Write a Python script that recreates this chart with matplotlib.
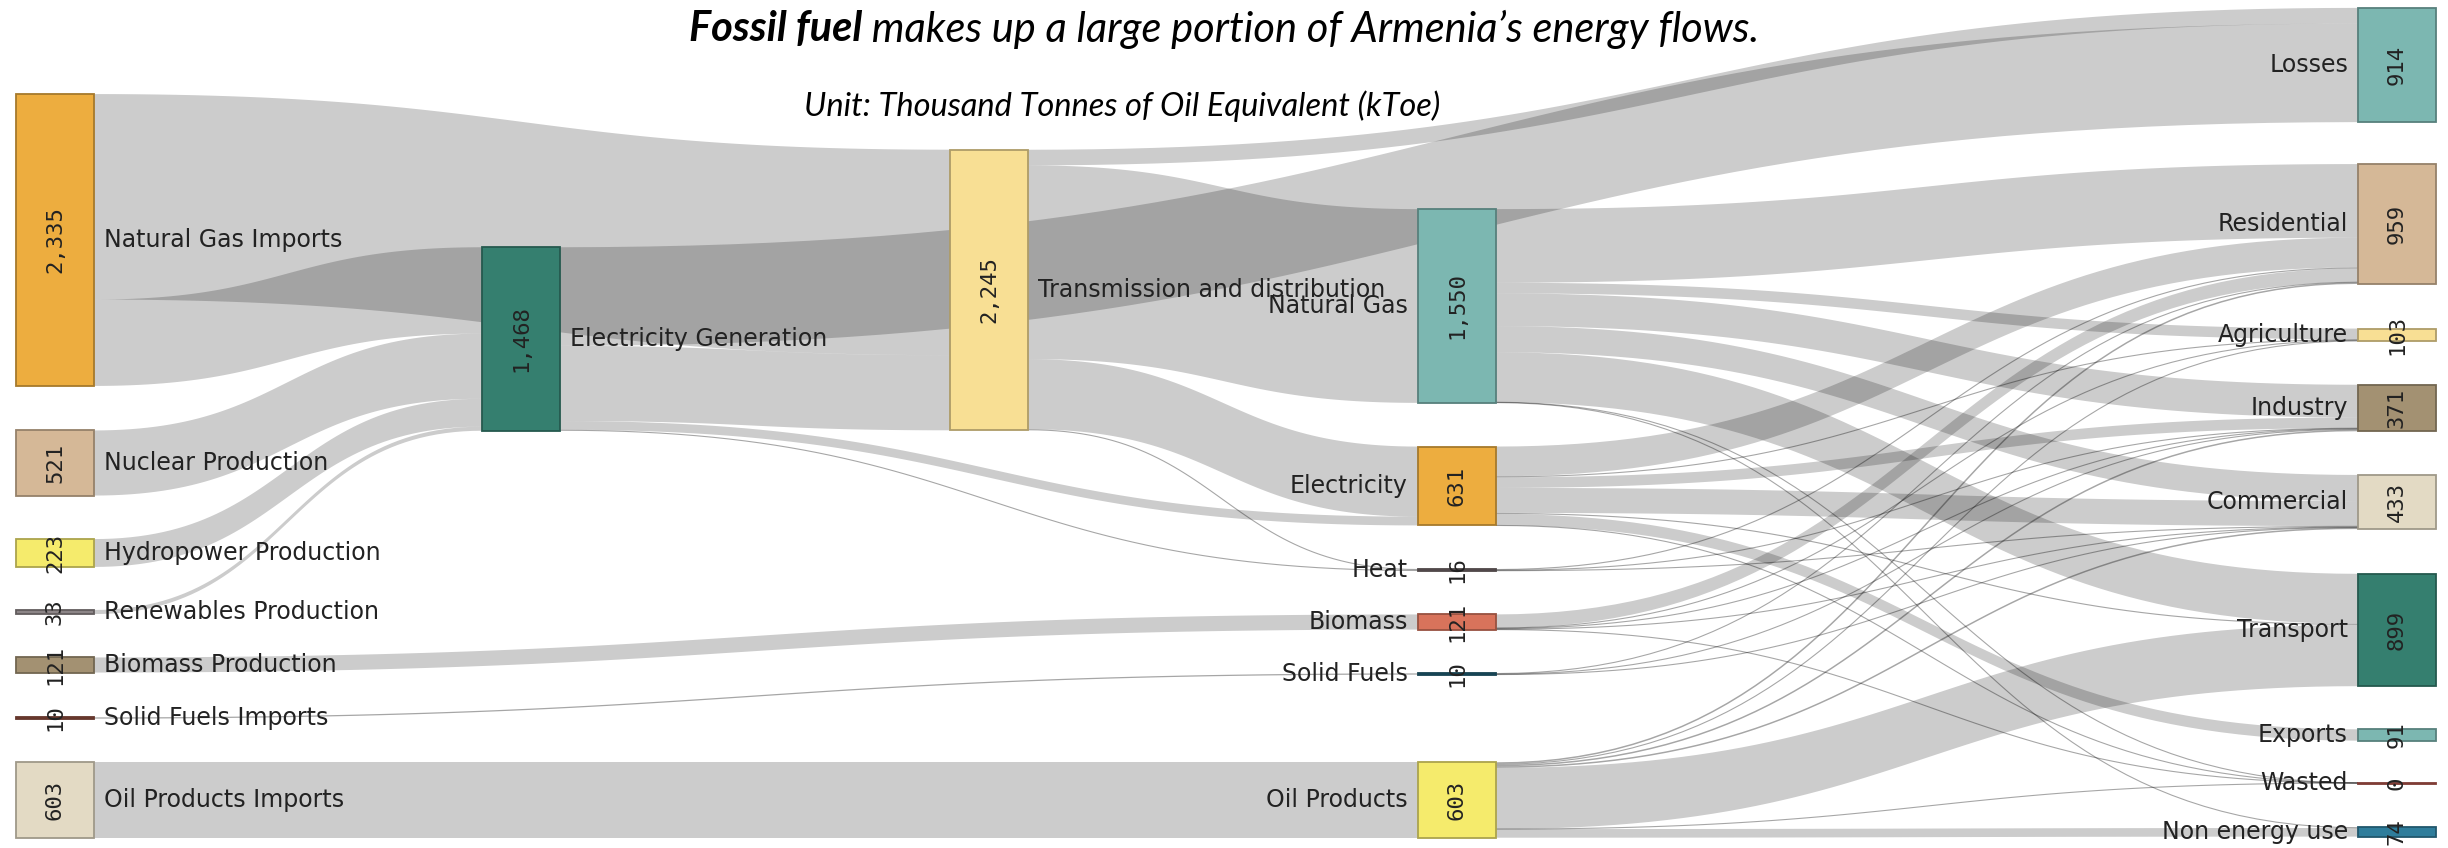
import numpy as np
import matplotlib.pyplot as plt
from matplotlib.patches import Rectangle, Polygon

# --- Data: energy balance of Armenia (kToe) ---
node_labels = ["Natural Gas Imports", "Nuclear Production", "Hydropower Production",
               "Renewables Production", "Biomass Production", "Solid Fuels Imports",
               "Oil Products Imports", "Electricity Generation", "Transmission and distribution",
               "Natural Gas", "Electricity", "Heat", "Biomass", "Solid Fuels", "Oil Products",
               "Losses", "Residential", "Agriculture", "Industry", "Commercial", "Transport",
               "Exports", "Wasted", "Non energy use"]
node_values = [2335, 521, 223, 33, 121, 10, 603, 1468, 2245, 1550, 631, 16, 121, 10, 603,
               914, 959, 103, 371, 433, 899, 91, 0, 74]

link_source = [0, 0, 1, 2, 3, 4, 5, 6,
               7, 7, 7, 7,
               8, 8, 8, 8,
               9, 9, 9, 9, 9, 9, 9,
               10, 10, 10, 10, 10, 10, 10,
               11, 11, 11,
               12, 12, 12, 12, 12,
               13, 13, 13,
               14, 14, 14, 14, 14, 14, 14]
link_target = [8, 7, 7, 7, 7, 12, 13, 14,
               15, 8, 10, 11,
               15, 9, 10, 11,
               16, 17, 18, 19, 20, 23, 22,
               16, 17, 18, 19, 20, 21, 22,
               16, 19, 18,
               16, 19, 18, 17, 22,
               18, 16, 19,
               20, 23, 17, 18, 16, 19, 22]
link_value = [1644, 691, 521, 223, 33, 121, 10, 603,
              789, 601, 70, 8,
              125, 1550, 561, 8,
              589, 85, 262, 209, 400, 5, 0.3,
              238, 8, 85, 200, 9, 91, 0.3,
              9, 5, 2,
              108, 6, 5, 2, 0.2,
              6, 3, 1,
              490, 69, 8, 12, 12, 12, 0.2]

# --- Layout (pixels on a 2448 x 848 canvas) ---
col_x = [16, 482, 950, 1418, 2358]
node_col = [0, 0, 0, 0, 0, 0, 0, 1, 2, 3, 3, 3, 3, 3, 3, 4, 4, 4, 4, 4, 4, 4, 4, 4]
node_yc = [240, 463, 553, 612, 665, 718, 800, 339, 290, 306, 486, 570, 622, 674, 800,
           65, 224, 335, 408, 502, 630, 735, 783, 832]
node_w = 78
scale = 0.125  # px per kToe

c_orange, c_tan, c_yel, c_teal, c_dteal = "#EDAD3F", "#D5B897", "#F5EB6C", "#7CB7B1", "#357F6F"
c_khaki, c_beige, c_lyel = "#A39172", "#E3DAC4", "#F8DF94"
node_colors = [c_orange, c_tan, c_yel, "#8C8587", c_khaki, "#8E4B3E", c_beige, c_dteal, c_lyel,
               c_teal, c_orange, "#6F6466", "#D8735B", "#1F5E73", c_yel,
               c_teal, c_tan, c_lyel, c_khaki, c_beige, c_dteal, c_teal, "#B5564B", "#2F7D9B"]


def darker(hexcol, f=0.7):
    r, g, b = [int(hexcol[i:i + 2], 16) / 255 for i in (1, 3, 5)]
    return (r * f, g * f, b * f)


def bez(x0, y0, x1, y1, n=60):
    t = np.linspace(0, 1, n)
    xm = (x0 + x1) / 2
    x = (1 - t) ** 3 * x0 + 3 * (1 - t) ** 2 * t * xm + 3 * (1 - t) * t ** 2 * xm + t ** 3 * x1
    y = (1 - t) ** 3 * y0 + 3 * (1 - t) ** 2 * t * y0 + 3 * (1 - t) * t ** 2 * y1 + t ** 3 * y1
    return x, y


fig = plt.figure(figsize=(24.48, 8.48), dpi=100)
ax = fig.add_axes([0, 0, 1, 1])
ax.set_xlim(0, 2448)
ax.set_ylim(848, 0)
ax.axis("off")

n_nodes = len(node_labels)
n_links = len(link_value)
thick = [v * scale for v in link_value]

# stacking offsets: outgoing sorted by target y, incoming sorted by source y
src_off = {}
tgt_off = {}
for k in range(n_nodes):
    outs = sorted([i for i in range(n_links) if link_source[i] == k], key=lambda i: node_yc[link_target[i]])
    ins = sorted([i for i in range(n_links) if link_target[i] == k], key=lambda i: node_yc[link_source[i]])
    for group, store in ((outs, src_off), (ins, tgt_off)):
        total = sum(thick[i] for i in group)
        y = node_yc[k] - total / 2
        for i in group:
            store[i] = y
            y += thick[i]

# links
for i in range(n_links):
    s, t = link_source[i], link_target[i]
    x0 = col_x[node_col[s]] + node_w
    x1 = col_x[node_col[t]]
    y0, y1 = src_off[i], tgt_off[i]
    h = thick[i]
    if h < 2.5:
        xs, ys = bez(x0, y0 + h / 2, x1, y1 + h / 2)
        ax.plot(xs, ys, color=(0, 0, 0, 0.35), lw=max(h, 1.1) / 1.389, solid_capstyle="butt", zorder=1)
    else:
        xa, ya = bez(x0, y0, x1, y1)
        xb, yb = bez(x0, y0 + h, x1, y1 + h)
        pts = np.vstack([np.column_stack([xa, ya]), np.column_stack([xb[::-1], yb[::-1]])])
        ax.add_patch(Polygon(pts, closed=True, facecolor=(0, 0, 0, 0.2), edgecolor="none", zorder=1))

# nodes
for k in range(n_nodes):
    h = max(node_values[k] * scale, 1.0)
    x = col_x[node_col[k]]
    ax.add_patch(Rectangle((x, node_yc[k] - h / 2), node_w, h, facecolor=node_colors[k],
                           edgecolor=darker(node_colors[k]), lw=1.3, zorder=3))
    ax.text(x + node_w / 2, node_yc[k], f"{node_values[k]:,}", rotation=90, ha="center", va="center",
            fontsize=16, family="DejaVu Sans Mono", color="#222222", zorder=4)
    if node_col[k] <= 2:
        ax.text(x + node_w + 10, node_yc[k], node_labels[k], ha="left", va="center",
                fontsize=17, color="#222222", zorder=4)
    else:
        ax.text(x - 10, node_yc[k], node_labels[k], ha="right", va="center",
                fontsize=17, color="#222222", zorder=4)

# title: bold italic lead + italic rest, centred as one line
t1 = ax.text(0, 29, "Fossil fuel", fontsize=30, family="Lato", style="italic", weight="bold",
             ha="left", va="center")
t2 = ax.text(0, 29, " makes up a large portion of Armenia\u2019s energy flows.", fontsize=30,
             family="Lato", style="italic", ha="left", va="center")
fig.canvas.draw()
r = fig.canvas.get_renderer()
w1 = t1.get_window_extent(r).width
w2 = t2.get_window_extent(r).width
x_start = 1224 - (w1 + w2) / 2
t1.set_x(x_start)
t2.set_x(x_start + w1)

ax.text(1122, 106, "Unit: Thousand Tonnes of Oil Equivalent (kToe)", fontsize=23.5, family="Lato",
        style="italic", ha="center", va="center")

fig.savefig("out.png", dpi=100)
